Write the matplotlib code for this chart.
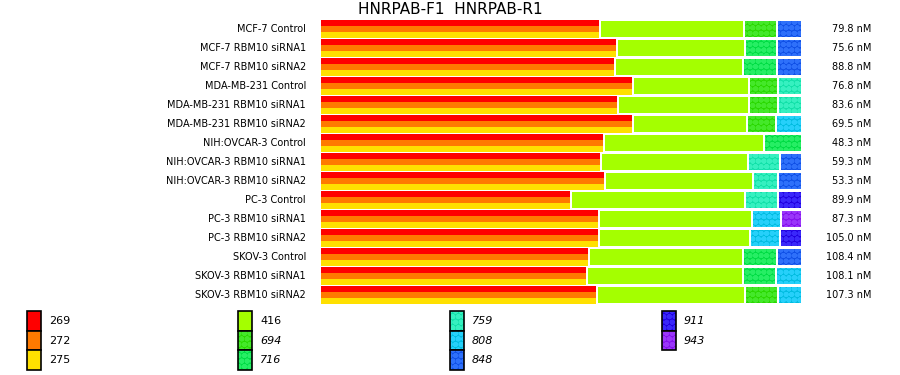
import matplotlib.pyplot as plt
from matplotlib.patches import Rectangle

plt.rcParams['font.family'] = ['DejaVu Sans']
plt.rcParams['hatch.linewidth'] = 2.0

samples = ['MCF-7 Control', 'MCF-7 RBM10 siRNA1', 'MCF-7 RBM10 siRNA2',
           'MDA-MB-231 Control', 'MDA-MB-231 RBM10 siRNA1', 'MDA-MB-231 RBM10 siRNA2',
           'NIH:OVCAR-3 Control', 'NIH:OVCAR-3 RBM10 siRNA1', 'NIH:OVCAR-3 RBM10 siRNA2',
           'PC-3 Control', 'PC-3 RBM10 siRNA1', 'PC-3 RBM10 siRNA2',
           'SKOV-3 Control', 'SKOV-3 RBM10 siRNA1', 'SKOV-3 RBM10 siRNA2']
conc = ['79.8 nM', '75.6 nM', '88.8 nM', '76.8 nM', '83.6 nM', '69.5 nM', '48.3 nM',
        '59.3 nM', '53.3 nM', '89.9 nM', '87.3 nM', '105.0 nM', '108.4 nM', '108.1 nM',
        '107.3 nM']

# percent of bar: 269/272/275 block, 416, then two hatched segments
low = [58.3, 61.9, 61.5, 65.2, 62.1, 65.2, 59.2, 58.5, 59.4, 52.3, 58.1, 58.1, 56.0, 55.6, 57.7]
mid = [30.0, 26.7, 26.7, 24.2, 27.3, 23.8, 33.3, 30.6, 30.8, 36.3, 31.9, 31.5, 32.1, 32.5, 30.8]
h1_key = ['694', '716', '716', '694', '694', '694', '716', '759', '759', '759', '808', '808', '716', '716', '694']
h1_val = [6.9, 6.7, 7.1, 6.0, 6.0, 6.0, 7.5, 6.7, 5.2, 6.9, 6.0, 6.3, 7.1, 6.9, 6.9]
h2_key = ['848', '848', '848', '759', '759', '808', None, '848', '848', '911', '943', '911', '848', '808', '808']
h2_val = [4.8, 4.8, 4.8, 4.6, 4.6, 5.0, 0, 4.2, 4.6, 4.6, 4.0, 4.2, 4.8, 5.0, 4.6]

plain = {'269': '#ff0000', '272': '#ff7a00', '275': '#ffe000', '416': '#a4ff00'}
hatched = {'694': ('#2ad800', '#44e82a'), '716': ('#00dc44', '#26ee64'),
           '759': ('#11e0a8', '#36f0c0'), '808': ('#00bce0', '#26d0fa'),
           '848': ('#1050e6', '#2e70fa'), '911': ('#2000e0', '#3a28fa'),
           '943': ('#8410ec', '#9a36fa')}

fig = plt.figure(figsize=(9, 3.75), dpi=100)
ax = fig.add_axes([321/900, 1 - 304.5/375, 480/900, 285/375])
ax.set_xlim(0, 100)
ax.set_ylim(len(samples) - 0.5, -0.5)
ax.axis('off')

bh = 0.89
gap = 0.42
for i in range(len(samples)):
    for k, key in enumerate(['269', '272', '275']):
        ax.barh(i - bh/3 + k*bh/3, low[i] - gap, height=bh/3 + 0.01, left=0,
                color=plain[key], linewidth=0, antialiased=False)
    left = low[i]
    ax.barh(i, mid[i] - gap, height=bh, left=left, color=plain['416'], linewidth=0)
    left += mid[i]
    segs = [(h1_key[i], h1_val[i]), (h2_key[i], h2_val[i])]
    segs = [s for s in segs if s[0] is not None]
    for j, (key, w) in enumerate(segs):
        fc, dc = hatched[key]
        last = j == len(segs) - 1
        ax.barh(i, 100 - left if last else w - gap, height=bh, left=left,
                color=fc, edgecolor=dc, linewidth=0, hatch='ooo')
        left += w
    ax.text(-3.1, i, samples[i], ha='right', va='center', fontsize=7)
    ax.text(114.6, i, conc[i], ha='right', va='center', fontsize=7)

fig.text(0.5, 1 - 10/375, 'HNRPAB-F1  HNRPAB-R1', ha='center', va='center', fontsize=11)

# legend
lax = fig.add_axes([0, 0, 1, 1], zorder=-1)
lax.set_xlim(0, 900)
lax.set_ylim(375, 0)
lax.axis('off')
legend_cols = [['269', '272', '275'], ['416', '694', '716'], ['759', '808', '848'], ['911', '943']]
col_x = [27, 238, 450, 662]
for cx, keys in zip(col_x, legend_cols):
    for r, key in enumerate(keys):
        y0 = 311 + r * 19.7
        if key in plain:
            lax.add_patch(Rectangle((cx, y0), 14, 19.7, facecolor=plain[key], linewidth=0))
            style = 'normal'
        else:
            fc, dc = hatched[key]
            lax.add_patch(Rectangle((cx, y0), 14, 19.7, facecolor=fc, edgecolor=dc,
                                    linewidth=0, hatch='ooo'))
            style = 'italic'
        lax.add_patch(Rectangle((cx, y0), 14, 19.7, fill=False, edgecolor='black', linewidth=1.2))
        lax.text(cx + 22, y0 + 10, key, ha='left', va='center', fontsize=8, style=style)

fig.savefig('out.png', dpi=100)
